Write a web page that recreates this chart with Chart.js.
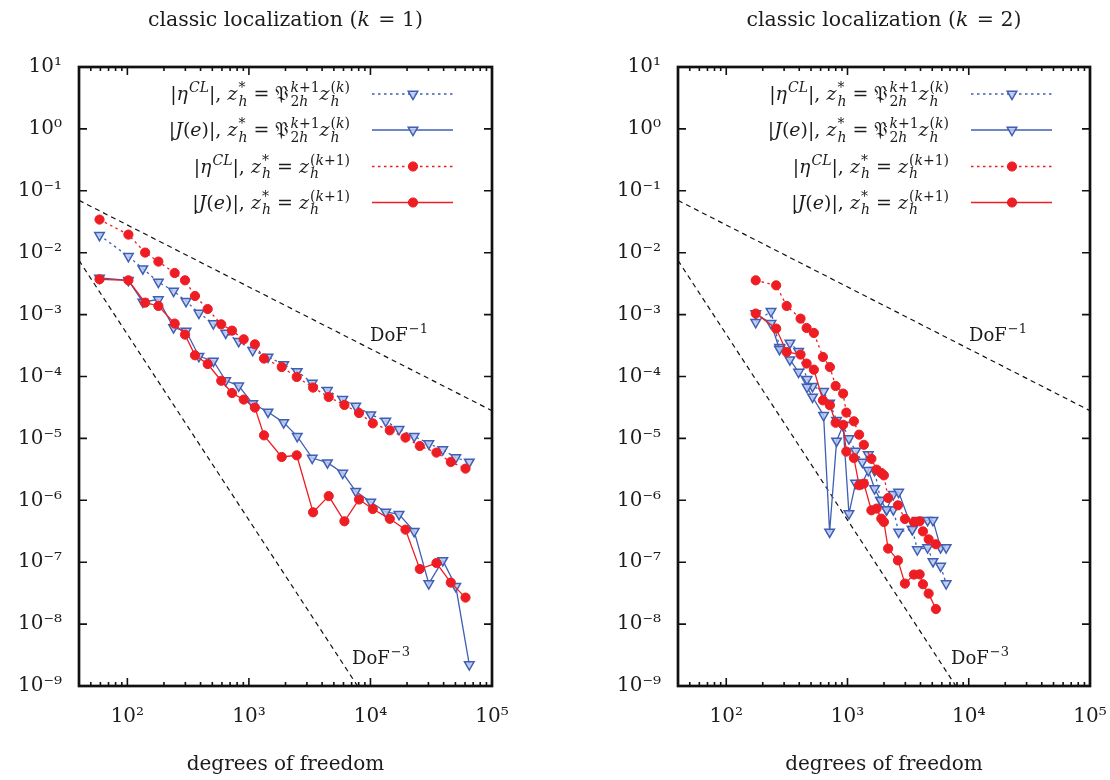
<!DOCTYPE html>
<html><head><meta charset="utf-8">
<script src="https://cdn.jsdelivr.net/npm/chart.js@4.4.1/dist/chart.umd.min.js"></script>
<style>
html,body{margin:0;padding:0;background:#fff;}
#wrap{position:relative;width:1110px;height:780px;overflow:hidden;}
canvas{position:absolute;top:0;}
</style></head><body>
<div id="wrap">
<canvas id="c1" width="555" height="780" style="left:0"></canvas>
<canvas id="c2" width="555" height="780" style="left:555px"></canvas>
</div>
<script>
// ---------- tick labels ----------
const xTickValues = [1e2, 1e3, 1e4, 1e5];
const xTickLabels = ['10²', '10³', '10⁴', '10⁵'];
const yTickValues = [1e-9, 1e-8, 1e-7, 1e-6, 1e-5, 1e-4, 1e-3, 1e-2, 1e-1, 1e0, 1e1];
const yTickLabels = ['10⁻⁹', '10⁻⁸', '10⁻⁷', '10⁻⁶', '10⁻⁵', '10⁻⁴', '10⁻³', '10⁻²', '10⁻¹', '10⁰', '10¹'];

// ---------- k = 1 ----------
const k1BlueDofs = [59, 102, 134, 180, 240, 304, 388, 510, 644, 824, 1075, 1436, 1933, 2498, 3319, 4426, 5916, 7568, 10050, 13366, 17180, 22910, 30200, 39360, 50350, 65030];
const k1BlueEta  = [0.0191, 0.00875, 0.00553, 0.00336, 0.00240, 0.00164, 0.00106, 7.16e-4, 5.05e-4, 3.71e-4, 2.65e-4, 2.07e-4, 1.56e-4, 1.21e-4, 7.85e-5, 5.98e-5, 4.28e-5, 3.33e-5, 2.42e-5, 1.91e-5, 1.40e-5, 1.08e-5, 8.24e-6, 6.59e-6, 4.90e-6, 4.16e-6];
const k1BlueJ    = [0.00390, 0.00358, 0.00160, 0.00175, 6.17e-4, 5.43e-4, 2.12e-4, 1.78e-4, 8.59e-5, 7.08e-5, 3.65e-5, 2.67e-5, 1.80e-5, 1.08e-5, 4.82e-6, 4.06e-6, 2.76e-6, 1.40e-6, 9.39e-7, 6.47e-7, 5.94e-7, 3.15e-7, 4.51e-8, 1.07e-7, 4.08e-8, 2.22e-9];
const k1RedDofs  = [59, 102, 140, 180, 245, 298, 360, 458, 592, 726, 906, 1120, 1331, 1862, 2474, 3371, 4536, 6109, 8054, 10450, 14420, 19410, 25460, 34910, 45810, 60530];
const k1RedEta   = [0.0343, 0.0196, 0.01004, 0.00718, 0.00470, 0.00358, 0.00200, 0.00123, 6.97e-4, 5.51e-4, 3.99e-4, 3.31e-4, 1.95e-4, 1.42e-4, 9.82e-5, 6.62e-5, 4.67e-5, 3.47e-5, 2.57e-5, 1.75e-5, 1.35e-5, 1.03e-5, 7.54e-6, 5.90e-6, 4.16e-6, 3.25e-6];
const k1RedJ     = [0.00372, 0.00358, 0.00156, 0.00138, 7.16e-4, 4.75e-4, 2.20e-4, 1.59e-4, 8.53e-5, 5.41e-5, 4.24e-5, 3.15e-5, 1.12e-5, 5.01e-6, 5.33e-6, 6.40e-7, 1.17e-6, 4.58e-7, 1.03e-6, 7.23e-7, 5.02e-7, 3.36e-7, 7.76e-8, 9.70e-8, 4.68e-8, 2.68e-8];

// ---------- k = 2 ----------
const k2BlueDofs = [175, 234, 275, 335, 395, 464, 515, 635, 712, 813, 920, 1028, 1166, 1325, 1485, 1673, 1876, 2102, 2387, 2641, 3425, 3767, 4581, 5068, 5862, 6511];
const k2BlueEta  = [7.51e-4, 1.13e-3, 2.96e-4, 3.48e-4, 2.55e-4, 9.01e-5, 6.95e-5, 5.77e-5, 3.73e-5, 1.96e-5, 1.63e-5, 9.93e-6, 6.25e-6, 4.16e-6, 5.47e-6, 3.05e-6, 1.00e-6, 7.08e-7, 7.08e-7, 3.08e-7, 3.40e-7, 1.60e-7, 1.72e-7, 1.03e-7, 8.68e-8, 4.51e-8];
const k2BlueJ    = [1.04e-3, 7.23e-4, 2.75e-4, 1.87e-4, 1.18e-4, 6.76e-5, 4.67e-5, 2.36e-5, 3.08e-7, 9.08e-6, 1.63e-5, 6.10e-7, 1.90e-6, 1.90e-6, 3.05e-6, 1.55e-6, 1.00e-6, 7.10e-7, 1.25e-6, 1.36e-6, 3.40e-7, 4.75e-7, 4.75e-7, 4.75e-7, 1.72e-7, 1.72e-7];
const k2RedDofs  = [175, 258, 315, 410, 460, 528, 627, 716, 798, 920, 978, 1129, 1247, 1365, 1574, 1738, 1900, 1997, 2163, 2606, 2976, 3531, 3935, 4190, 4668, 5360];
const k2RedEta   = [3.58e-3, 2.97e-3, 1.38e-3, 8.61e-4, 6.08e-4, 5.05e-4, 2.07e-4, 1.42e-4, 7.03e-5, 5.30e-5, 2.61e-5, 1.89e-5, 1.15e-5, 7.88e-6, 4.68e-6, 3.13e-6, 2.76e-6, 2.53e-6, 1.09e-6, 8.30e-7, 4.99e-7, 4.46e-7, 4.58e-7, 3.15e-7, 2.34e-7, 1.95e-7];
const k2RedJ     = [1.04e-3, 5.94e-4, 2.49e-4, 2.26e-4, 1.62e-4, 1.29e-4, 4.12e-5, 3.43e-5, 1.79e-5, 1.66e-5, 6.12e-6, 4.82e-6, 1.75e-6, 1.86e-6, 6.89e-7, 7.35e-7, 5.06e-7, 4.46e-7, 1.66e-7, 1.07e-7, 4.51e-8, 6.31e-8, 6.36e-8, 4.40e-8, 3.11e-8, 1.75e-8];

// ---------- reference slopes (end points) ----------
const slope1Dofs = [40, 1e5];
const slope1Vals = [0.07, 2.8e-5];
const slope3Dofs = [40, 7830];
const slope3Vals = [7.5e-3, 1e-9];

// ---------- styling ----------
const BLUE = '#3f5fb4';
const BLUE_FILL = 'rgba(185,200,238,0.85)';
const RED = '#ee1d23';
const FONT = '"DejaVu Serif", "Liberation Serif", serif';
const TXT = '#1c1c1c';

function pts(xs, ys) { return xs.map((v, i) => ({x: v, y: ys[i]})); }

function f(size, it) { return (it ? 'italic ' : '') + size + 'px ' + FONT; }
function isLetter(ch) { return /[A-Za-z\u03B1-\u03C9]/.test(ch); }

function runs(s, math) {
  const out = []; let cur = null;
  for (const ch of s) {
    const it = math && isLetter(ch);
    if (!cur || cur.it !== it) { cur = {t: '', it}; out.push(cur); }
    cur.t += ch;
  }
  return out;
}
function strW(ctx, s, size, math) {
  let w = 0;
  for (const r of runs(s, math)) { ctx.font = f(size, r.it); w += ctx.measureText(r.t).width; }
  return w;
}
function strDraw(ctx, s, size, math, x, y) {
  for (const r of runs(s, math)) { ctx.font = f(size, r.it); ctx.fillText(r.t, x, y); x += ctx.measureText(r.t).width; }
  return x;
}
function richW(ctx, items, size) {
  const ss = Math.round(size * 0.72);
  let w = 0;
  for (const it of items) {
    if (typeof it === 'string') w += strW(ctx, it, size, true);
    else w += Math.max(it.sup ? strW(ctx, it.sup, ss, true) : 0, it.sub ? strW(ctx, it.sub, ss, true) : 0) + 1;
  }
  return w;
}
function richDraw(ctx, items, size, x, y) {
  const ss = Math.round(size * 0.72);
  for (const it of items) {
    if (typeof it === 'string') x = strDraw(ctx, it, size, true, x, y);
    else {
      let w = 0;
      if (it.sup) { strDraw(ctx, it.sup, ss, true, x + 1, y - size * 0.42); w = Math.max(w, strW(ctx, it.sup, ss, true)); }
      if (it.sub) { strDraw(ctx, it.sub, ss, true, x + 1, y + size * 0.3); w = Math.max(w, strW(ctx, it.sub, ss, true)); }
      x += w + 1;
    }
  }
  return x;
}

const legendRows = [
  {items: ['|η', {sup: 'CL'}, '|, z', {sup: '*', sub: 'h'}, ' = 𝔓', {sup: 'k+1', sub: '2h'}, 'z', {sup: '(k)', sub: 'h'}], color: BLUE, dash: true, tri: true},
  {items: ['|J(e)|, z', {sup: '*', sub: 'h'}, ' = 𝔓', {sup: 'k+1', sub: '2h'}, 'z', {sup: '(k)', sub: 'h'}], color: BLUE, dash: false, tri: true},
  {items: ['|η', {sup: 'CL'}, '|, z', {sup: '*', sub: 'h'}, ' = z', {sup: '(k+1)', sub: 'h'}], color: RED, dash: true, tri: false},
  {items: ['|J(e)|, z', {sup: '*', sub: 'h'}, ' = z', {sup: '(k+1)', sub: 'h'}], color: RED, dash: false, tri: false},
];

function decorPlugin(kval) {
  return {
    id: 'decor',
    afterDraw(chart) {
      const {ctx, chartArea: a, scales: {x, y}} = chart;
      ctx.save();
      ctx.strokeStyle = '#111';
      ctx.lineWidth = 1.6;
      ctx.beginPath();
      for (const v of yTickValues) {
        const py = y.getPixelForValue(v);
        ctx.moveTo(a.left, py); ctx.lineTo(a.left + 8, py);
        ctx.moveTo(a.right, py); ctx.lineTo(a.right - 8, py);
      }
      for (let d = 1; d <= 5; d++) {
        for (let m = 1; m <= 9; m++) {
          const v = m * Math.pow(10, d);
          if (v < 40 || v > 1e5) continue;
          const px = x.getPixelForValue(v);
          const L = m === 1 ? 8 : 4;
          ctx.moveTo(px, a.bottom); ctx.lineTo(px, a.bottom - L);
          ctx.moveTo(px, a.top); ctx.lineTo(px, a.top + L);
        }
      }
      ctx.stroke();
      ctx.lineWidth = 2.7;
      ctx.strokeRect(a.left, a.top, a.right - a.left, a.bottom - a.top);

      ctx.fillStyle = TXT;
      ctx.textBaseline = 'alphabetic';
      const cx = (a.left + a.right) / 2;
      const tsz = 20.5;
      const t1 = 'classic localization (', t2 = 'k', t3 = ' = ' + kval + ')';
      ctx.font = f(tsz, false); const w1 = ctx.measureText(t1).width, w3 = ctx.measureText(t3).width;
      ctx.font = f(tsz, true); const w2 = ctx.measureText(t2).width + 2;
      let tx = cx - (w1 + w2 + w3) / 2;
      ctx.font = f(tsz, false); ctx.fillText(t1, tx, 26); tx += w1;
      ctx.font = f(tsz, true); ctx.fillText(t2, tx, 26); tx += w2;
      ctx.font = f(tsz, false); ctx.fillText(t3, tx, 26);
      ctx.font = f(20, false); ctx.textAlign = 'center';
      ctx.fillText('degrees of freedom', cx, 770);
      ctx.textAlign = 'left';
      const dofLabel = (lx, by, sup) => {
        ctx.font = f(18, false); ctx.fillText('DoF', lx, by);
        const w = ctx.measureText('DoF').width;
        ctx.font = f(13, false); ctx.fillText(sup, lx + w + 1, by - 8);
      };
      dofLabel(a.left + 291, 341, '−1');
      dofLabel(a.left + 273, 664, '−3');
      const rowY = [94, 130, 166.5, 202.5];
      const textRight = a.left + 271;
      const l0 = a.left + 293, l1 = a.left + 374, lm = a.left + 334;
      legendRows.forEach((r, i) => {
        const yy = rowY[i];
        ctx.fillStyle = TXT;
        const w = richW(ctx, r.items, 19);
        richDraw(ctx, r.items, 19, textRight - w, yy + 6);
        ctx.strokeStyle = r.color; ctx.lineWidth = 1.3;
        ctx.setLineDash(r.dash ? [2.5, 3.5] : []);
        ctx.beginPath(); ctx.moveTo(l0, yy); ctx.lineTo(l1, yy); ctx.stroke();
        ctx.setLineDash([]);
        if (r.tri) {
          ctx.fillStyle = BLUE_FILL; ctx.strokeStyle = BLUE; ctx.lineWidth = 1.5;
          Chart.helpers.drawPoint(ctx, {pointStyle: 'triangle', rotation: 180, radius: 5.5, borderWidth: 1.5}, lm, yy);
        } else {
          ctx.fillStyle = RED; ctx.strokeStyle = RED; ctx.lineWidth = 1;
          Chart.helpers.drawPoint(ctx, {pointStyle: 'circle', rotation: 0, radius: 4.6, borderWidth: 1}, lm, yy);
        }
      });
      ctx.restore();
    }
  };
}

function makeChart(id, kval, d, yAxisWidth, padRight) {
  const redLine = (data, dash) => ({data, borderColor: RED, backgroundColor: RED, borderWidth: 1.3, borderDash: dash ? [2.5, 3.5] : [],
    pointStyle: 'circle', pointRadius: 4.6, pointBorderWidth: 1, pointBackgroundColor: RED, pointBorderColor: RED, tension: 0});
  const blueLine = (data, dash) => ({data, borderColor: BLUE, backgroundColor: BLUE_FILL, borderWidth: 1.3, borderDash: dash ? [2.5, 3.5] : [],
    pointStyle: 'triangle', pointRotation: 180, pointRadius: 5.5, pointBorderWidth: 1.5, pointBackgroundColor: BLUE_FILL, pointBorderColor: BLUE, tension: 0});
  const refLine = (data) => ({data, borderColor: '#111', borderWidth: 1.2, borderDash: [5, 4], pointRadius: 0, tension: 0});
  new Chart(document.getElementById(id), {
    type: 'line',
    data: {datasets: [
      redLine(pts(d.redDofs, d.redJ), false),
      redLine(pts(d.redDofs, d.redEta), true),
      blueLine(pts(d.blueDofs, d.blueJ), false),
      blueLine(pts(d.blueDofs, d.blueEta), true),
      refLine(pts(slope1Dofs, slope1Vals)),
      refLine(pts(slope3Dofs, slope3Vals)),
    ]},
    options: {
      responsive: false, animation: false, devicePixelRatio: 1,
      layout: {padding: {top: 67, right: padRight, left: 0, bottom: 0}},
      plugins: {legend: {display: false}, tooltip: {enabled: false}},
      scales: {
        x: {type: 'logarithmic', min: 40, max: 1e5,
          afterBuildTicks: s => { s.ticks = xTickValues.map(v => ({value: v})); },
          afterFit: s => { s.height = 94; s.paddingLeft = 0; s.paddingRight = 0; },
          grid: {display: false, drawTicks: false}, border: {display: false},
          ticks: {autoSkip: false, maxRotation: 0, padding: 19, color: TXT, font: {family: FONT, size: 20},
            callback: (v, i) => xTickLabels[i]}},
        y: {type: 'logarithmic', min: 1e-9, max: 10,
          afterBuildTicks: s => { s.ticks = yTickValues.map(v => ({value: v})); },
          afterFit: s => { s.width = yAxisWidth; s.paddingTop = 0; s.paddingBottom = 0; },
          grid: {display: false, drawTicks: false}, border: {display: false},
          ticks: {autoSkip: false, padding: 17, color: TXT, font: {family: FONT, size: 20},
            callback: (v, i) => yTickLabels[i]}}
      }
    },
    plugins: [decorPlugin(kval)]
  });
}

makeChart('c1', 1, {redDofs: k1RedDofs, redEta: k1RedEta, redJ: k1RedJ, blueDofs: k1BlueDofs, blueEta: k1BlueEta, blueJ: k1BlueJ}, 79, 63);
makeChart('c2', 2, {redDofs: k2RedDofs, redEta: k2RedEta, redJ: k2RedJ, blueDofs: k2BlueDofs, blueEta: k2BlueEta, blueJ: k2BlueJ}, 123, 20);
</script>
</body></html>
